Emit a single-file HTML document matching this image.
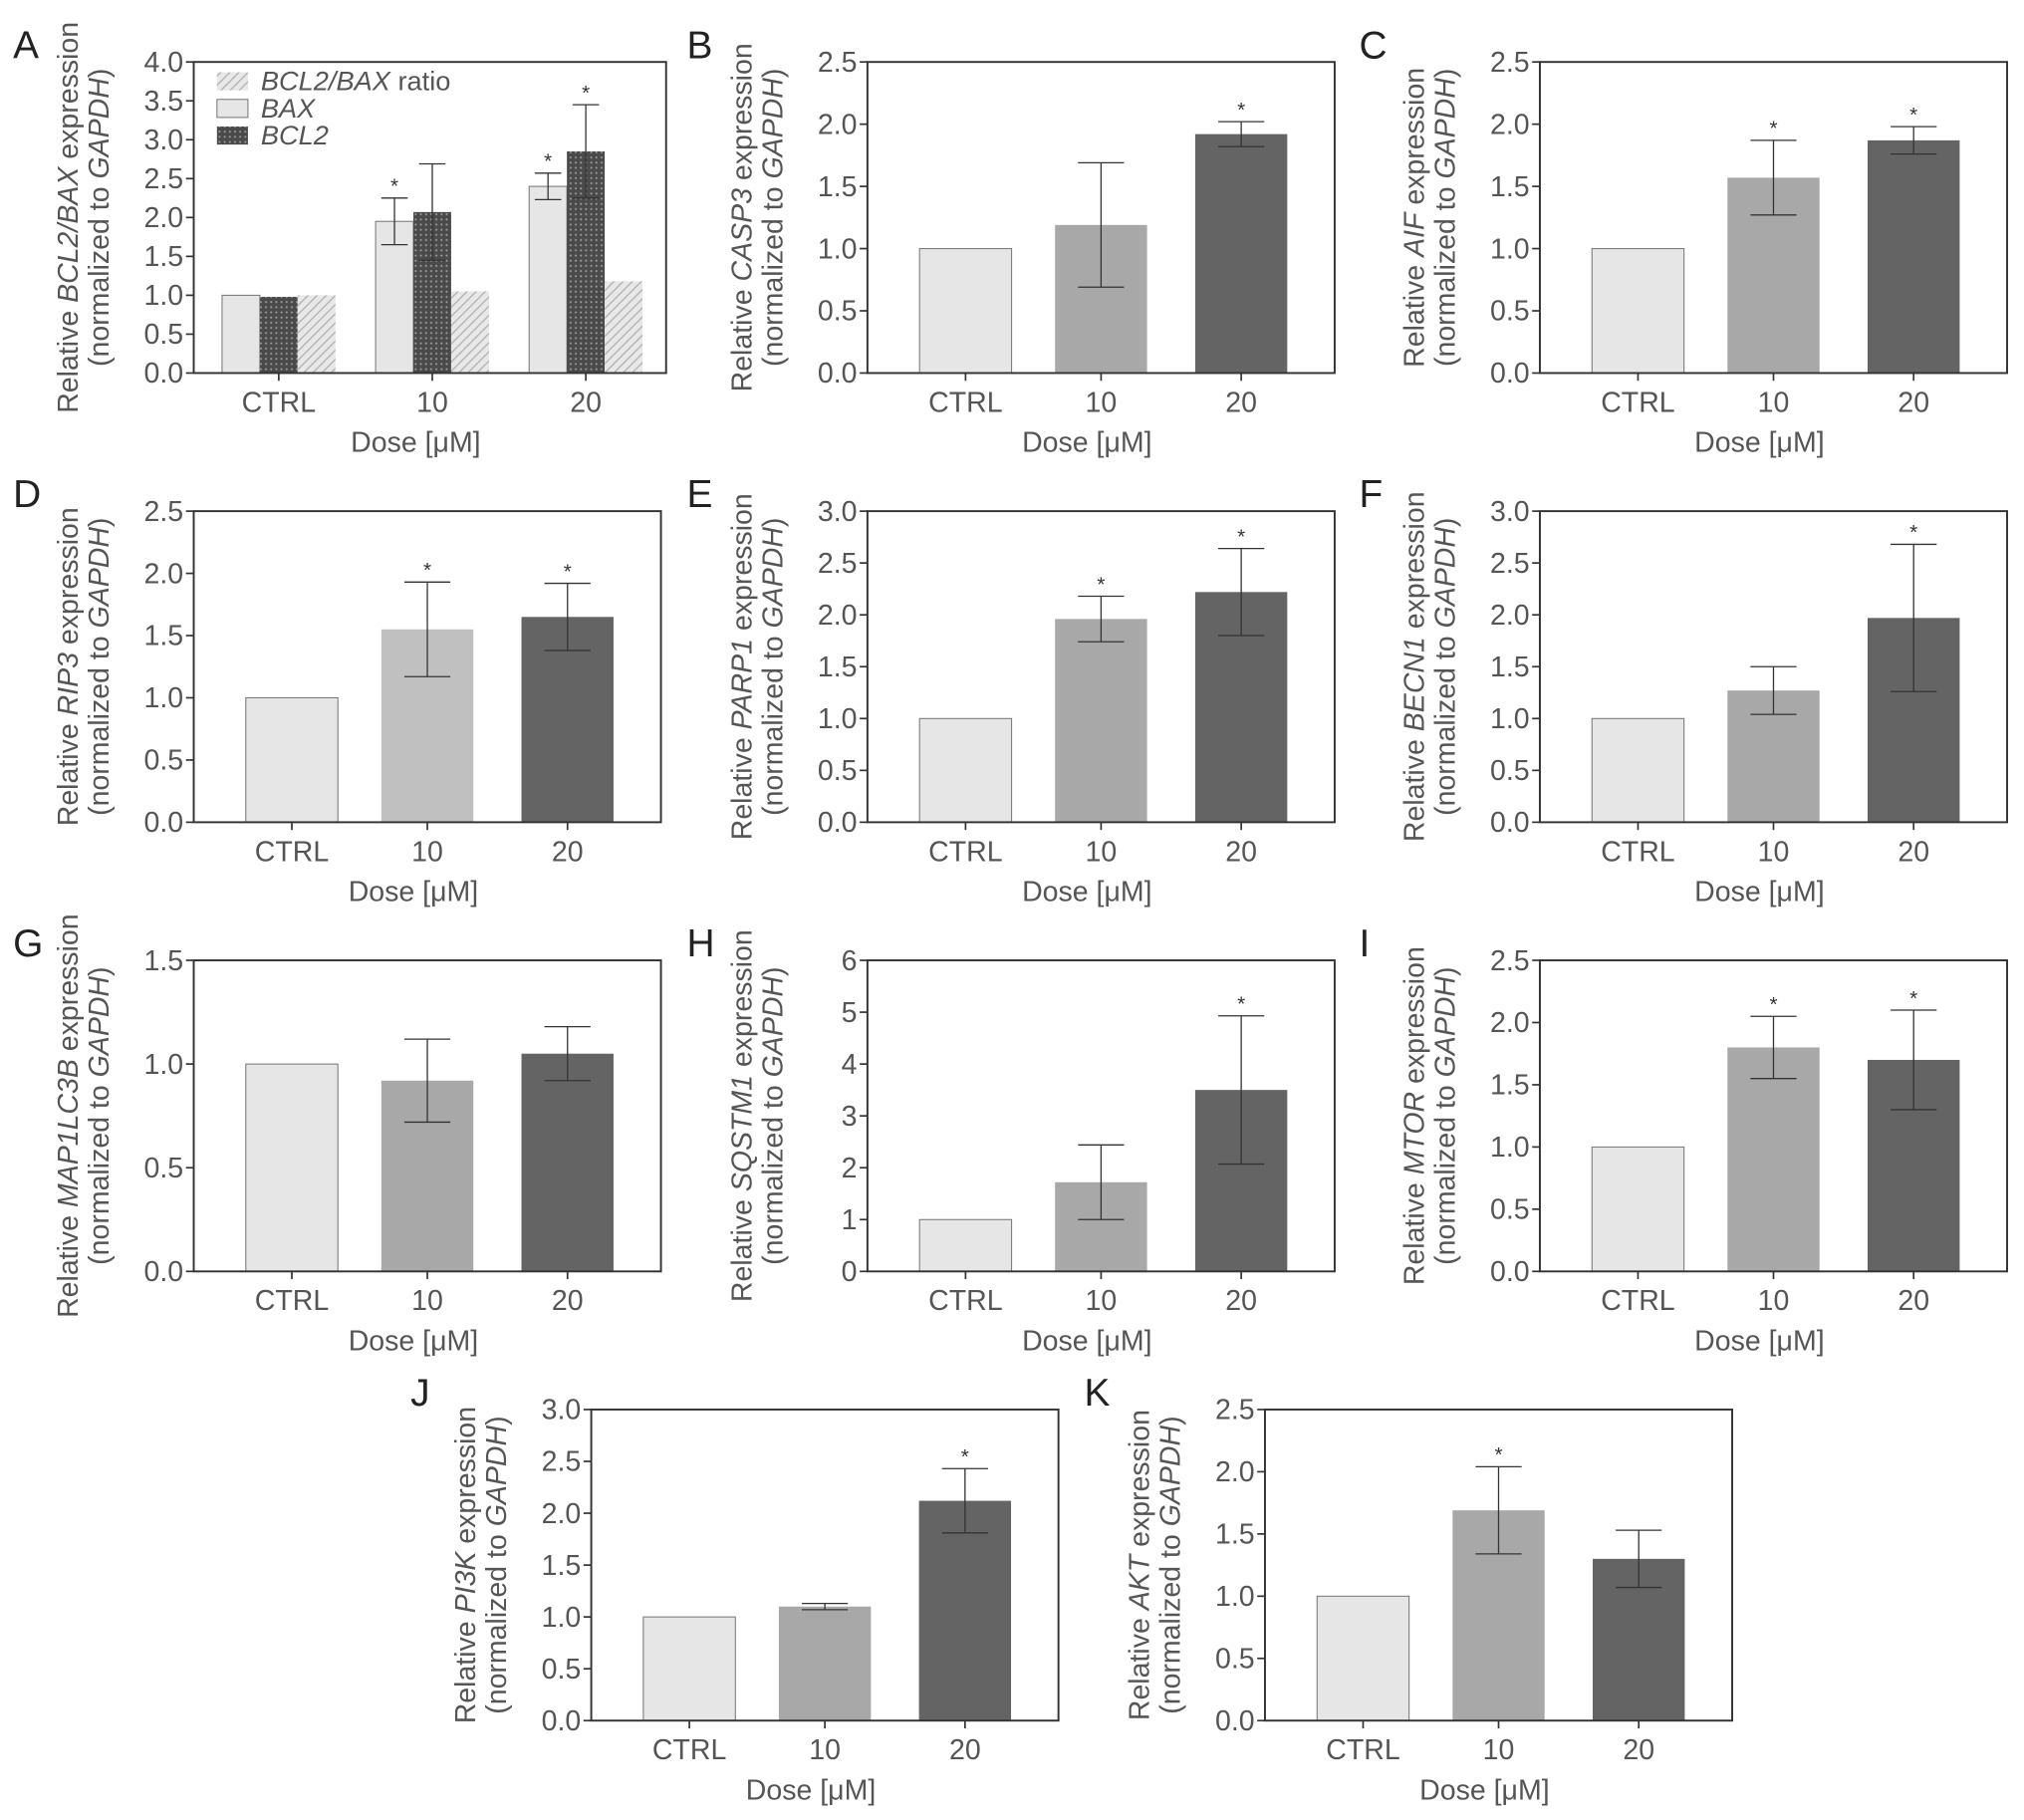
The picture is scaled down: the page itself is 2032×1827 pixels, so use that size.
<!DOCTYPE html>
<html><head><meta charset="utf-8">
<style>
html,body{margin:0;padding:0;background:#fff;}
svg{display:block;}
text{font-family:"Liberation Sans",sans-serif;fill:#555;}
</style></head>
<body>
<svg id="fig" width="2032" height="1827" viewBox="0 0 1568 1410" xmlns="http://www.w3.org/2000/svg">
<defs>
<pattern id="hatch" patternUnits="userSpaceOnUse" width="5" height="5" patternTransform="rotate(45)">
<rect width="5" height="5" fill="#e8e8e8"/><line x1="0" y1="0" x2="0" y2="5" stroke="#b0b0b0" stroke-width="2"/>
</pattern>
<pattern id="dots" patternUnits="userSpaceOnUse" width="4" height="4">
<rect width="4" height="4" fill="#4a4a4a"/><circle cx="2" cy="2" r="0.8" fill="#9a9a9a"/>
</pattern>
</defs>
</svg>
<script>
const NS='http://www.w3.org/2000/svg';
const svg=document.getElementById('fig');
const categories=['CTRL','10','20'];
// Panel A
const aBax=[1,1.95,2.4];
const aBaxErr=[0,0.3,0.17];
const aBcl2=[0.98,2.07,2.85];
const aBcl2Err=[0,0.62,0.6];
const aRatio=[1,1.05,1.18];
const aBaxStar=[false,true,true];
const aBcl2Star=[false,false,true];
// Single-series panels
const panelLetters=['B','C','D','E','F','G','H','I','J','K'];
const panelGenes=['CASP3','AIF','RIP3','PARP1','BECN1','MAP1LC3B','SQSTM1','MTOR','PI3K','AKT'];
const panelMax=[2.5,2.5,2.5,3.0,3.0,1.5,6,2.5,3.0,2.5];
const panelStep=[0.5,0.5,0.5,0.5,0.5,0.5,1,0.5,0.5,0.5];
const valB=[1,1.19,1.92], errB=[0,0.5,0.1], starB=[0,0,1];
const valC=[1,1.57,1.87], errC=[0,0.3,0.11], starC=[0,1,1];
const valD=[1,1.55,1.65], errD=[0,0.38,0.27], starD=[0,1,1];
const valE=[1,1.96,2.22], errE=[0,0.22,0.42], starE=[0,1,1];
const valF=[1,1.27,1.97], errF=[0,0.23,0.71], starF=[0,0,1];
const valG=[1,0.92,1.05], errG=[0,0.2,0.13], starG=[0,0,0];
const valH=[1,1.72,3.5], errH=[0,0.72,1.43], starH=[0,0,1];
const valI=[1,1.8,1.7], errI=[0,0.25,0.4], starI=[0,1,1];
const valJ=[1,1.1,2.12], errJ=[0,0.03,0.31], starJ=[0,0,1];
const valK=[1,1.69,1.3], errK=[0,0.35,0.23], starK=[0,1,0];
const values=[valB,valC,valD,valE,valF,valG,valH,valI,valJ,valK];
const errors=[errB,errC,errD,errE,errF,errG,errH,errI,errJ,errK];
const stars=[starB,starC,starD,starE,starF,starG,starH,starI,starJ,starK];

// layout (not data)
const frames=[[672,48],[1193,48],[150,396],[672,396],[1193,396],[150,744],[672,744],[1193,744],[458,1092],[980,1092]];
const PW=362, PH=241;
const FS=22;
const midColors=['#a8a8a8','#a8a8a8','#c0c0c0','#a8a8a8','#a8a8a8','#a8a8a8','#a8a8a8','#a8a8a8','#a8a8a8','#a8a8a8'];
const centerFrac=[0.21,0.5,0.8];

function el(tag,attrs,parent){const e=document.createElementNS(NS,tag);for(const k in attrs)e.setAttribute(k,attrs[k]);(parent||svg).appendChild(e);return e;}

function axes(g,L,T,W,max,step,letter,gene,ticksX){
  const yS=v=>T+PH-v/max*PH;
  const n=Math.round(max/step);
  for(let i=0;i<=n;i++){
    const v=i*step, y=yS(v);
    const tk=el('line',{x1:L-6,x2:L,y1:y,y2:y,stroke:'#333','stroke-width':1.3},g);
    
    
    const t=el('text',{x:L-8,y:y+7.5,'text-anchor':'end','font-size':FS},g);
    
    
    t.textContent=step<1?v.toFixed(1):String(v);
  }
  ticksX.forEach((x,i)=>{
    const tk=el('line',{x1:x,x2:x,y1:T+PH,y2:T+PH+6,stroke:'#333','stroke-width':1.3},g);
    
    
    const t=el('text',{x:x,y:T+PH+30,'text-anchor':'middle','font-size':FS},g);
    
    
    t.textContent=categories[i];
  });
  const xt=el('text',{x:L+W*0.47,y:T+PH+61,'text-anchor':'middle','font-size':FS},g);
  
  
  xt.textContent='Dose [\u03bcM]';
  const cy=T+PH/2;
  const y1=el('text',{x:0,y:0,'text-anchor':'middle','font-size':FS,transform:`translate(${L-90},${cy}) rotate(-90)`},g);
  
  
  y1.appendChild(document.createTextNode('Relative '));
  const it=el('tspan',{'font-style':'italic'},y1);it.textContent=gene;
  y1.appendChild(document.createTextNode(' expression'));
  const y2=el('text',{x:0,y:0,'text-anchor':'middle','font-size':FS,transform:`translate(${L-66},${cy}) rotate(-90)`},g);
  
  
  y2.appendChild(document.createTextNode('(normalized to '));
  const it2=el('tspan',{'font-style':'italic'},y2);it2.textContent='GAPDH';
  y2.appendChild(document.createTextNode(')'));
  const lt=el('text',{x:L-140,y:T-3,'font-size':30,style:'fill:#222'},g);
  
  
  lt.textContent=letter;
  return yS;
}
function frame(g,L,T,W){
  const f=el('rect',{x:L,y:T,width:W,height:PH,fill:'none',stroke:'#333','stroke-width':1.5},g);
  
  
}
function errBar(g,x,v,e,yS,cap){
  if(e<=0)return;
  const p=el('path',{d:`M${x},${yS(v+e)}V${yS(v-e)}M${x-cap},${yS(v+e)}H${x+cap}M${x-cap},${yS(v-e)}H${x+cap}`,stroke:'#333','stroke-width':1,fill:'none'},g);
  
  
}
function star(g,x,y){
  const s=el('text',{x:x,y:y,'text-anchor':'middle','font-size':16,style:'fill:#333'},g);
  
  
  s.textContent='*';
}

// Panel A
(function(){
  const L=150,T=48,max=4.0,W=366;
  const g=el('g',{});
  
  
  const cx=[0.18,0.505,0.83].map(f=>L+f*W);
  const yS=axes(g,L,T,W,max,0.5,'A','BCL2/BAX',cx);
  const bw=W*0.08;
  categories.forEach((c,i)=>{
    const specs=[[aBax,'#e6e6e6',-1,aBaxErr,aBaxStar,'bar-bax'],[aBcl2,'url(#dots)',0,aBcl2Err,aBcl2Star,'bar-bcl2'],[aRatio,'url(#hatch)',1,null,null,'bar-ratio']];
    specs.forEach(s=>{
      const arr=s[0], x=cx[i]+s[2]*bw-bw/2;
      const r=el('rect',{x:x,y:yS(arr[i]),width:bw,height:yS(0)-yS(arr[i]),fill:s[1],stroke:s[2]===-1?'#777':'none','stroke-width':0.8},g);
      
      
      if(s[3]){errBar(g,x+bw/2,arr[i],s[3][i],yS,bw*0.35);
        if(s[4][i])star(g,x+bw/2,yS(arr[i]+s[3][i])-4);}
    });
  });
  frame(g,L,T,W);
  const leg=el('g',{},g);
  
  
  const items=[['url(#hatch)','BCL2/BAX',' ratio'],['#e6e6e6','BAX',''],['url(#dots)','BCL2','']];
  items.forEach((it,k)=>{
    const y=56+k*21;
    const sw=el('rect',{x:168,y:y,width:24,height:14,fill:it[0],stroke:k===1?'#777':'none','stroke-width':0.8},leg);
    
    
    const t=el('text',{x:202,y:y+14,'font-size':21},leg);
    
    
    const ti=el('tspan',{'font-style':'italic'},t);ti.textContent=it[1];
    if(it[2])t.appendChild(document.createTextNode(it[2]));
  });
})();

// Panels B-K
panelLetters.forEach((letter,p)=>{
  const [L,T]=frames[p];
  const g=el('g',{});
  
  
  const cx=centerFrac.map(f=>L+f*PW);
  const yS=axes(g,L,T,PW,panelMax[p],panelStep[p],letter,panelGenes[p],cx);
  const bw=PW*0.197;
  const cols=['#e6e6e6',midColors[p],'#646464'];
  values[p].forEach((v,i)=>{
    const r=el('rect',{x:cx[i]-bw/2,y:yS(v),width:bw,height:yS(0)-yS(v),fill:cols[i],stroke:i===0?'#777':'none','stroke-width':0.8},g);
    
    
    errBar(g,cx[i],v,errors[p][i],yS,bw*0.25);
    if(stars[p][i])star(g,cx[i],yS(v+errors[p][i])-4);
  });
  frame(g,L,T,PW);
});
</script>
</body></html>
